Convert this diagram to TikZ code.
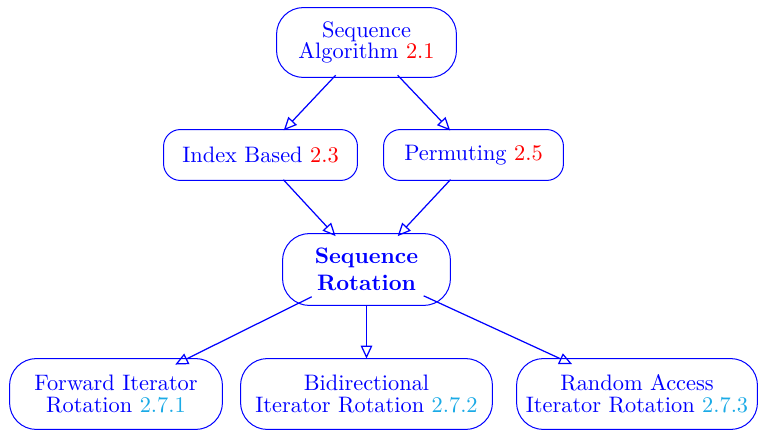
\documentclass[tikz,border=0pt]{standalone}
\usetikzlibrary{arrows.meta, shapes.geometric}

\definecolor{stageblue}{RGB}{0,0,255}
\definecolor{secred}{RGB}{255,0,0}
\definecolor{subsec}{RGB}{26,170,230}
\newcommand\secnum[1]{\textcolor{secred}{#1}}
\newcommand\subnum[1]{\textcolor{subsec}{#1}}
\def\pxu{0.447pt}

\begin{document}
\begin{tikzpicture}[x=0.447pt, y=-0.447pt,
  % invisible ellipse that carries the name; connectors clip to it
  stage/.style={ellipse, inner sep=0pt},
  stagetext/.style={text=stageblue, align=center, inner sep=0pt,
    font={\fontsize{10pt}{9.7pt}\selectfont}},
  boldtext/.style={text=stageblue, align=center, inner sep=0pt,
    font={\fontsize{10pt}{12pt}\selectfont\bfseries}},
  frame/.style={draw=stageblue, line width=0.45pt, rounded corners=#1},
  flow/.style={draw=stageblue, line width=0.55pt,
    -{Triangle[open, length=5.8pt, width=5.2pt]}}]

\useasboundingbox (0,0) rectangle (758,431);

% stages
\node[stage, minimum width=179*\pxu, minimum height=69*\pxu,
  label={[stagetext, name=alg-text]center:{Sequence\\Algorithm \secnum{2.1}}}]
  (alg) at (366.5,42.5) {};
\node[stage, minimum width=193*\pxu, minimum height=50*\pxu,
  label={[stagetext, name=idx-text]center:{Index Based \secnum{2.3}}}]
  (idx) at (260.5,155) {};
\node[stage, minimum width=179*\pxu, minimum height=50*\pxu,
  label={[stagetext, name=perm-text]center:{Permuting \secnum{2.5}}}]
  (perm) at (473.5,155) {};
\node[stage, minimum width=167*\pxu, minimum height=71*\pxu,
  label={[boldtext, name=rot-text]center:{Sequence\\Rotation}}]
  (rot) at (366.5,269.5) {};
\node[stage, minimum width=212*\pxu, minimum height=70*\pxu,
  label={[stagetext, name=fwd-text]center:{Forward Iterator\\Rotation \subnum{2.7.1}}}]
  (fwd) at (116,394) {};
\node[stage, minimum width=251*\pxu, minimum height=70*\pxu,
  label={[stagetext, name=bid-text]center:{Bidirectional\\Iterator Rotation \subnum{2.7.2}}}]
  (bid) at (366.5,394) {};
\node[stage, minimum width=240*\pxu, minimum height=70*\pxu,
  label={[stagetext, name=ran-text]center:{Random Access\\Iterator Rotation \subnum{2.7.3}}}]
  (ran) at (637,394) {};

% rounded frames around the stages
\foreach \n in {alg,rot,fwd,bid,ran}
  \draw[frame=12pt] (\n.west |- \n.north) rectangle (\n.east |- \n.south);
\foreach \n in {idx,perm}
  \draw[frame=7.5pt] (\n.west |- \n.north) rectangle (\n.east |- \n.south);

% connectors
\draw[flow] (alg) -- (idx);
\draw[flow] (alg) -- (perm);
\draw[flow] (idx) -- (rot);
\draw[flow] (perm) -- (rot);
\draw[flow] (rot) -- (fwd);
\draw[flow] (rot) -- (bid);
\draw[flow] (rot) -- (ran);

\end{tikzpicture}
\end{document}
